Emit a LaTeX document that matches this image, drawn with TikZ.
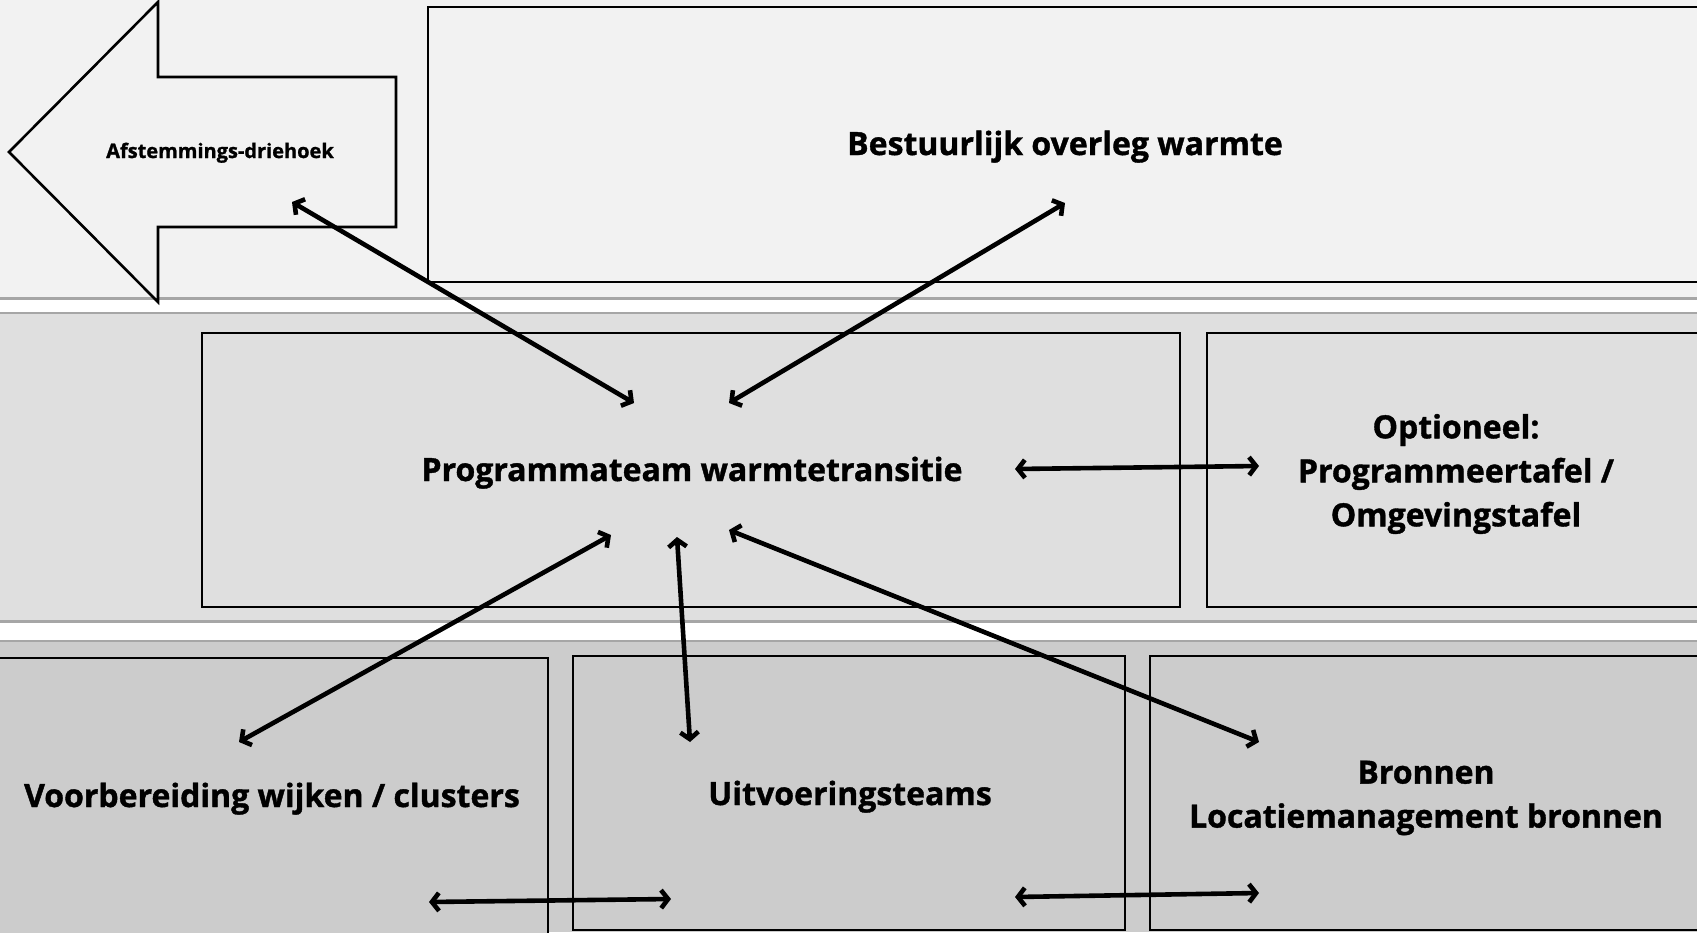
\documentclass[tikz,border=0pt]{standalone}
\usepackage{fontspec}
\setmainfont{Open Sans}[BoldFeatures={FakeBold=1.2}]
\usetikzlibrary{arrows.meta}
\definecolor{bandtop}{HTML}{F2F2F2}
\definecolor{bandmid}{HTML}{DFDFDF}
\definecolor{bandbot}{HTML}{CCCCCC}
\definecolor{sepgray}{HTML}{A6A6A6}
\tikzset{
  boxline/.style={draw=black, line width=2.6pt},
  barb/.tip={Straight Barb[length=7pt,width=18pt]},
  link/.style={line width=4.6pt, barb-barb},
  lbl/.style={font=\fontsize{32}{44}\selectfont\bfseries, inner sep=0pt, align=center},
  smalllbl/.style={font=\fontsize{20}{24}\selectfont\bfseries, inner sep=0pt},
}
\begin{document}
\begin{tikzpicture}[x=1pt,y=-1pt]
\useasboundingbox (0,0) rectangle (1697,932);
\clip (0,0) rectangle (1697,932);
% bands
\fill[white] (0,0) rectangle (1697,932);
\fill[bandtop] (0,0) rectangle (1697,298);
\fill[bandmid] (0,314) rectangle (1697,621);
\fill[bandbot] (0,642) rectangle (1697,932);
\draw[sepgray, line width=2.8pt] (0,298.5) -- (1697,298.5);
\draw[sepgray, line width=2.4pt] (0,313) -- (1697,313);
\draw[sepgray, line width=2.4pt] (0,621.5) -- (1697,621.5);
\draw[sepgray, line width=2.4pt] (0,641) -- (1697,641);
% boxes
\draw[boxline, fill=bandtop] (428,7) rectangle (1710,282);
\draw[boxline, fill=bandmid] (202,333) rectangle (1180,607);
\draw[boxline, fill=bandmid] (1207,333) rectangle (1710,607);
\draw[boxline, fill=bandbot] (-10,658) rectangle (548,950);
\draw[boxline, fill=bandbot] (573,656) rectangle (1125,930);
\draw[boxline, fill=bandbot] (1150,656) rectangle (1710,930);
% block arrow
\draw[boxline, fill=bandtop, line join=miter] (9,152) -- (158,2) -- (158,77) -- (396,77) -- (396,227) -- (158,227) -- (158,302) -- cycle;
% texts
\node[smalllbl, anchor=base] (afst) at (220,158) {Afstemmings-driehoek};
\node[lbl, anchor=base] (best) at (1065,155) {Bestuurlijk overleg warmte};
\node[lbl, anchor=base] (prog) at (692,481) {Programmateam warmtetransitie};
\node[lbl] (opt) at (1456,474) {Optioneel:\\Programmeertafel /\\Omgevingstafel};
\node[lbl, anchor=base] (voor) at (272,807) {Voorbereiding wijken / clusters};
\node[lbl, anchor=base] (uitv) at (850,805) {Uitvoeringsteams};
\node[lbl] (bron) at (1426,798) {Bronnen\\Locatiemanagement bronnen};
% arrow end points
\coordinate (p1a) at (292,202); \coordinate (p1b) at (634,403);
\coordinate (p2a) at (1065,203); \coordinate (p2b) at (729,403);
\coordinate (p3a) at (1015,469); \coordinate (p3b) at (1259,466);
\coordinate (p4a) at (611,535); \coordinate (p4b) at (239,742);
\coordinate (p5a) at (677,537); \coordinate (p5b) at (690,742);
\coordinate (p6a) at (729,530); \coordinate (p6b) at (1259,742);
\coordinate (p7a) at (429,902); \coordinate (p7b) at (671,899);
\coordinate (p8a) at (1015,897); \coordinate (p8b) at (1259,893);
\draw[link] (p1a) -- (p1b);
\draw[link] (p2a) -- (p2b);
\draw[link] (p3a) -- (p3b);
\draw[link] (p4a) -- (p4b);
\draw[link] (p5a) -- (p5b);
\draw[link] (p6a) -- (p6b);
\draw[link] (p7a) -- (p7b);
\draw[link] (p8a) -- (p8b);
\end{tikzpicture}
\end{document}
